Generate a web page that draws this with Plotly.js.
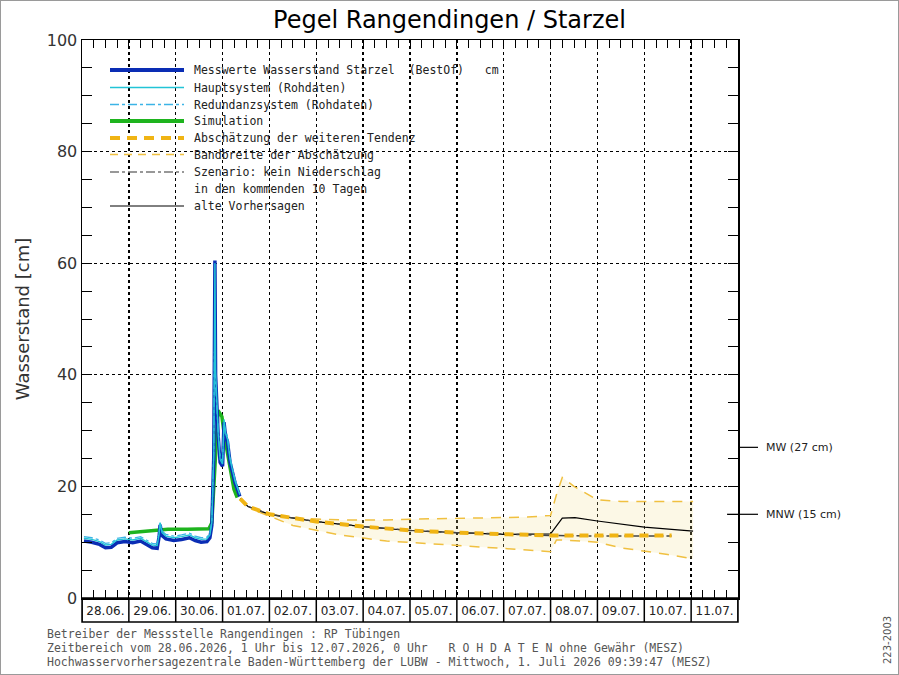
<!DOCTYPE html>
<html><head><meta charset="utf-8">
<script src="https://cdn.plot.ly/plotly-3.0.1.min.js"></script>
<style>
html,body{margin:0;padding:0;background:#fff}
#wrap{position:relative;width:899px;height:675px}
#chart{width:899px;height:675px}
#frame{position:absolute;left:0;top:0;width:897px;height:673px;border:1px solid #9a9a9a;pointer-events:none}
</style>
</head><body>
<div id="wrap"><div id="chart"></div><div id="frame"></div></div>
<script>
// ---------------- DATA ----------------
const dayStarts = ['2026-06-28','2026-06-29','2026-06-30','2026-07-01','2026-07-02','2026-07-03','2026-07-04',
  '2026-07-05','2026-07-06','2026-07-07','2026-07-08','2026-07-09','2026-07-10','2026-07-11','2026-07-12'];
const dayLabels = ['28.06.','29.06.','30.06.','01.07.','02.07.','03.07.','04.07.','05.07.','06.07.','07.07.',
  '08.07.','09.07.','10.07.','11.07.'];

const timeMeas = ['2026-06-28 01:00','2026-06-28 05:00','2026-06-28 09:00','2026-06-28 12:00','2026-06-28 15:00',
  '2026-06-28 18:00','2026-06-28 22:00','2026-06-29 02:00','2026-06-29 06:00','2026-06-29 09:00','2026-06-29 12:00',
  '2026-06-29 14:30','2026-06-29 15:30','2026-06-29 16:00','2026-06-29 17:00','2026-06-29 19:00','2026-06-29 23:00',
  '2026-06-30 03:00','2026-06-30 07:00','2026-06-30 10:00','2026-06-30 13:00','2026-06-30 16:00','2026-06-30 17:30',
  '2026-06-30 18:30','2026-06-30 19:00','2026-06-30 19:30','2026-06-30 19:50','2026-06-30 20:05','2026-06-30 20:25',
  '2026-06-30 21:00','2026-06-30 21:45','2026-06-30 22:45','2026-07-01 00:00','2026-07-01 00:45','2026-07-01 01:30',
  '2026-07-01 02:30','2026-07-01 03:50','2026-07-01 06:20','2026-07-01 08:50'];
const bestOf = [10.2,10.0,9.6,9.0,9.1,9.9,10.1,9.9,10.2,9.6,9.0,8.9,11.0,13.1,11.2,10.6,10.3,10.5,10.8,10.3,10.0,10.1,
  10.8,13.0,19.5,25.4,45.0,60.5,40.0,33.8,29.0,24.3,23.6,31.5,29.0,28.0,24.3,20.7,18.2];
const hauptsystem = [10.7,10.5,10.1,9.5,9.6,10.4,10.6,10.4,10.7,10.1,9.5,9.4,11.5,13.5,11.7,11.1,10.8,11.0,11.3,10.8,
  10.5,10.6,11.3,13.5,20.0,26.0,46.0,60.0,41.0,34.5,29.5,24.8,24.0,32.0,29.5,28.5,24.8,21.0,18.5];
const redundanz = [11.0,10.8,10.4,9.8,9.9,10.7,10.9,10.7,11.0,10.4,9.8,9.7,11.7,13.6,12.0,11.4,11.1,11.3,11.6,11.1,
  10.8,10.9,11.6,13.8,20.5,26.5,44.0,44.0,38.0,34.0,30.0,25.2,24.5,31.0,30.0,29.0,25.2,21.3,18.7];

const timeSim = ['2026-06-29 00:00','2026-06-29 12:00','2026-06-29 20:00','2026-06-30 06:00','2026-06-30 17:00',
  '2026-06-30 18:30','2026-06-30 19:30','2026-06-30 20:30','2026-06-30 21:40','2026-06-30 23:40','2026-07-01 01:00',
  '2026-07-01 03:00','2026-07-01 05:50','2026-07-01 07:30'];
const simulation = [11.7,12.0,12.3,12.3,12.4,13.5,20.0,28.0,33.6,32.5,29.0,25.0,19.5,18.0];

const timeFc = ['2026-07-01 09:00','2026-07-01 13:00','2026-07-02 00:00','2026-07-02 12:00','2026-07-03 00:00',
  '2026-07-04 00:00','2026-07-05 00:00','2026-07-06 00:00','2026-07-07 00:00','2026-07-08 00:00','2026-07-09 00:00',
  '2026-07-10 00:00','2026-07-10 14:00'];
const tendenz = [17.8,16.4,15.0,14.3,13.7,12.8,12.1,11.7,11.4,11.2,11.2,11.2,11.2];
const szenario = [17.8,16.4,15.0,14.3,13.7,12.8,12.1,11.7,11.4,11.2,11.1,11.1,11.1];

const timeOld = ['2026-07-01 09:00','2026-07-01 13:00','2026-07-02 00:00','2026-07-02 12:00','2026-07-03 00:00',
  '2026-07-04 00:00','2026-07-05 00:00','2026-07-06 00:00','2026-07-07 00:00','2026-07-08 00:00','2026-07-08 06:00',
  '2026-07-08 12:30','2026-07-09 00:00','2026-07-10 00:00','2026-07-11 00:00','2026-07-11 01:00'];
const alteVorhersage = [17.8,16.4,15.0,14.3,13.7,12.8,12.1,11.7,11.4,11.5,14.3,14.4,13.8,12.7,12.1,12.0];

const timeBand = ['2026-07-01 18:00','2026-07-02 12:00','2026-07-03 12:00','2026-07-04 12:00','2026-07-05 12:00',
  '2026-07-06 12:00','2026-07-07 12:00','2026-07-08 00:00','2026-07-08 03:00','2026-07-08 06:00','2026-07-08 12:00',
  '2026-07-09 00:00','2026-07-09 12:00','2026-07-10 12:00','2026-07-11 01:00'];
const bandUpper = [15.5,14.3,14.0,14.0,14.2,14.3,14.5,14.8,18.5,21.6,20.0,17.6,17.3,17.3,17.3];
const bandLower = [15.5,13.0,11.3,10.2,9.7,9.2,8.6,8.3,10.4,10.4,10.3,10.0,9.0,7.8,7.0];

const levelNames = ['MW (27 cm)','MNW (15 cm)'];
const levelValues = [27, 15];

const legendLabels = ['Messwerte Wasserstand Starzel\u00a0\u00a0(BestOf)\u00a0\u00a0\u00a0cm','Hauptsystem (Rohdaten)',
  'Redundanzsystem (Rohdaten)','Simulation','Abschätzung der weiteren Tendenz','Bandbreite der Abschätzung',
  'Szenario: kein Niederschlag','in den kommenden 10 Tagen','alte Vorhersagen'];

const footerLines = ['Betreiber der Messstelle Rangendingen : RP Tübingen',
  'Zeitbereich vom 28.06.2026, 1 Uhr bis 12.07.2026, 0 Uhr\u00a0\u00a0\u00a0R O H D A T E N ohne Gewähr (MESZ)',
  'Hochwasservorhersagezentrale Baden-Württemberg der LUBW - Mittwoch, 1. Juli 2026 09:39:47 (MESZ)'];

// ---------------- STYLE ----------------
const FONT = 'DejaVu Sans, Liberation Sans, sans-serif';
const MONO = 'DejaVu Sans Mono, Liberation Mono, monospace';
const C = {best:'#0a2db4', haupt:'#22c4d6', red:'#3cb4e6', sim:'#1eb41e', tend:'#f0b414', band:'#f0c040',
  szen:'#444444', old:'#000000'};
const L = 82, R = 738, T = 40, B = 598;
const W = 899, H = 675;
const px = x => (x - L) / (R - L);
const py = y => (B - y) / (B - T);

const traces = [
  {x: timeBand, y: bandLower, mode:'lines', line:{color:C.band, width:1.5, dash:'10px,8px'}, hoverinfo:'skip'},
  {x: timeBand, y: bandUpper, mode:'lines', fill:'tonexty', fillcolor:'rgba(240,222,140,0.22)',
    line:{color:C.band, width:1.5, dash:'10px,8px'}, hoverinfo:'skip'},
  {x: timeOld, y: alteVorhersage, mode:'lines', line:{color:C.old, width:1.2}},
  {x: timeFc, y: szenario, mode:'lines', line:{color:C.szen, width:1.5, dash:'dashdot'}},
  {x: timeSim, y: simulation, mode:'lines', line:{color:C.sim, width:3.5}},
  {x: timeMeas, y: bestOf, mode:'lines', line:{color:C.best, width:3.5}},
  {x: timeMeas, y: redundanz, mode:'lines', line:{color:C.red, width:1.3, dash:'dashdot'}},
  {x: timeMeas, y: hauptsystem, mode:'lines', line:{color:C.haupt, width:1.4}},
  {x: timeFc, y: tendenz, mode:'lines', line:{color:C.tend, width:4, dash:'9px,6px'}},
  {x: [], y: [], xaxis:'x2', mode:'lines', hoverinfo:'skip'}
];
traces.forEach(t => t.showlegend = false);

const shapes = [];
const annotations = [];

// date label boxes under the plot
const boxBottom = py(622);
shapes.push({type:'rect', xref:'paper', yref:'paper', x0:0, x1:1, y0:boxBottom, y1:0, line:{color:'#000', width:1.5}});
dayStarts.forEach(d => shapes.push({type:'line', xref:'x', yref:'paper', x0:d, x1:d, y0:boxBottom, y1:0,
  line:{color:'#000', width:1.5}}));
const noon = dayStarts.slice(0, -1).map(d => d + ' 12:00');

// legend (drawn manually to get the long line samples)
const legStyles = [
  {color:C.best, width:4, dash:'solid'},
  {color:C.haupt, width:1.3, dash:'solid'},
  {color:C.red, width:1.3, dash:'dashdot'},
  {color:C.sim, width:4, dash:'solid'},
  {color:C.tend, width:4, dash:'10px,7px'},
  {color:C.band, width:1.5, dash:'8px,6px'},
  {color:'#777', width:1.3, dash:'dashdot'},
  null,
  {color:C.old, width:1, dash:'solid'}
];
const legRows = [70, 87.5, 104.5, 121, 138, 154.5, 172, 189, 206];
legendLabels.forEach((txt, i) => {
  if (legStyles[i]) shapes.push({type:'line', xref:'paper', yref:'paper', x0:px(110), x1:px(184),
    y0:py(legRows[i]), y1:py(legRows[i]), line:legStyles[i]});
  annotations.push({xref:'paper', yref:'paper', x:px(192), y:py(legRows[i]), xanchor:'left', yanchor:'middle',
    text:txt, showarrow:false, font:{family:MONO, size:11.5, color:'#222'}});
});

// MW / MNW marks on the right axis
levelValues.forEach((v, i) => {
  shapes.push({type:'line', xref:'paper', yref:'y', x0: i === 0 ? 1 : px(727), x1:px(758), y0:v, y1:v,
    line:{color:'#000', width:1.2}});
  annotations.push({xref:'paper', yref:'y', x:px(764), y:v, xanchor:'left', yanchor:'middle', text:levelNames[i],
    showarrow:false, font:{family:FONT, size:11, color:'#222'}});
});

// footer
const footY = [634, 648, 662];
footerLines.forEach((txt, i) => annotations.push({xref:'paper', yref:'paper', x:px(46), y:py(footY[i]),
  xanchor:'left', yanchor:'middle', text:txt, showarrow:false, borderpad:0,
  font:{family:MONO, size:11.5, color:'#555'}}));
annotations.push({xref:'paper', yref:'paper', x:px(887), y:py(640), xanchor:'center', yanchor:'middle',
  text:'223-2003', textangle:-90, showarrow:false, font:{family:FONT, size:10, color:'#555'}});

const gridCommon = {showgrid:true, gridcolor:'#000', griddash:'dot', gridwidth:1.3, showline:true, linecolor:'#000',
  linewidth:1.5, mirror:'ticks', zeroline:false, ticks:'inside', tickcolor:'#000'};

const layout = {
  width:W, height:H, margin:{l:L, r:W-R, t:T, b:H-B}, paper_bgcolor:'#fff', plot_bgcolor:'#fff',
  showlegend:false, font:{family:FONT, color:'#333'},
  title:{text:'Pegel Rangendingen / Starzel', xref:'container', x:0.5, xanchor:'center', yref:'container',
    y:1 - 20/H, yanchor:'middle', font:{family:FONT, size:24, color:'#000'}},
  xaxis: Object.assign({}, gridCommon, {type:'date', range:[dayStarts[0], dayStarts[dayStarts.length-1]],
    tickmode:'array', tickvals:dayStarts, showticklabels:false, ticklen:8,
    minor:{dtick:6*3600*1000, tick0:dayStarts[0], ticks:'inside', ticklen:8, tickcolor:'#000', showgrid:false}}),
  xaxis2: {type:'date', overlaying:'x', anchor:'y', side:'bottom', range:[dayStarts[0], dayStarts[dayStarts.length-1]],
    tickmode:'array', tickvals:noon, ticktext:dayLabels, ticks:'', showgrid:false, showline:false, zeroline:false,
    ticklabelstandoff:4, tickfont:{family:FONT, size:12, color:'#222'}},
  yaxis: Object.assign({}, gridCommon, {range:[0,100], tick0:0, dtick:20, ticklen:10,
    tickfont:{family:FONT, size:16, color:'#333'},
    minor:{dtick:5, tick0:0, ticks:'inside', ticklen:10, tickcolor:'#000', showgrid:false},
    title:{text:'Wasserstand [cm]', font:{family:FONT, size:18, color:'#333'}, standoff:12}}),
  shapes, annotations
};

Plotly.newPlot('chart', traces, layout, {displayModeBar:false, staticPlot:true});
</script>
</body></html>
